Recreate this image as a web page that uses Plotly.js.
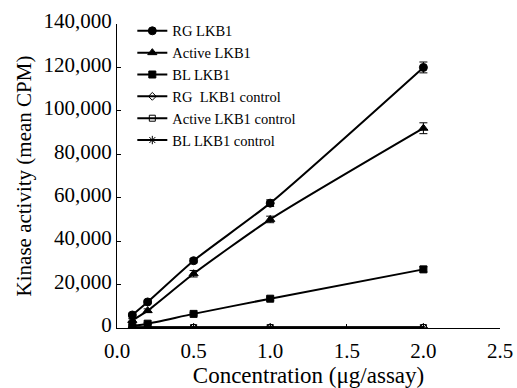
<!DOCTYPE html>
<html><head><meta charset="utf-8">
<script src="https://cdn.plot.ly/plotly-3.0.1.min.js"></script>
<style>body{margin:0;background:#fff}#chart{width:517px;height:388px}</style>
</head><body><div id="chart"></div>
<script>
const conc = [0.1, 0.2, 0.5, 1.0, 2.0];
const rgLKB1 = [6000, 12000, 31000, 57500, 120000];
const rgErr = [800, 800, 1000, 1500, 2500];
const activeLKB1 = [3500, 8000, 25000, 50000, 92000];
const activeErr = [800, 800, 1500, 1500, 2500];
const blLKB1 = [1000, 2000, 6500, 13500, 27000];
const blErr = [400, 400, 500, 700, 1200];
const rgControl = [300, 300, 300, 300, 300];
const activeControl = [200, 200, 200, 200, 200];
const blControl = [100, 100, 100, 100, 100];
const names = ["RG LKB1", "Active LKB1", "BL LKB1", "RG  LKB1 control", "Active LKB1 control", "BL LKB1 control"];
const yTicks = [0, 20000, 40000, 60000, 80000, 100000, 120000, 140000];
const yTickText = ["0", "20,000", "40,000", "60,000", "80,000", "100,000", "120,000", "140,000"];
const xTicks = [0, 0.5, 1.0, 1.5, 2.0, 2.5];
const xTickText = ["0.0", "0.5", "1.0", "1.5", "2.0", "2.5"];

function tr(y, err, name, sym, size) {
  const t = {x: conc, y: y, name: name, type: 'scatter', mode: 'lines+markers',
    line: {color: '#000', width: 2, shape: 'spline', smoothing: 0.6},
    marker: {symbol: sym, size: size, color: '#000', line: {color: '#000', width: 1}}};
  if (err) t.error_y = {type: 'data', array: err, visible: true, color: '#000', thickness: 1, width: 4};
  return t;
}
const data = [
  tr(rgLKB1, rgErr, names[0], 'circle', 8),
  tr(activeLKB1, activeErr, names[1], 'triangle-up', 8),
  tr(blLKB1, blErr, names[2], 'square', 7),
  tr(rgControl, null, names[3], 'diamond-open', 6),
  tr(activeControl, null, names[4], 'square-open', 6),
  tr(blControl, null, names[5], 'asterisk-open', 7)
];
const font = {family: 'Liberation Serif, Times New Roman, serif', color: '#000'};
const layout = {
  width: 517, height: 388,
  margin: {l: 117, r: 17, t: 24, b: 60},
  paper_bgcolor: '#fff', plot_bgcolor: '#fff',
  font: Object.assign({size: 20}, font),
  showlegend: true,
  legend: {x: 0.04, y: 1.03, xanchor: 'left', yanchor: 'top', bgcolor: 'rgba(0,0,0,0)',
    font: Object.assign({size: 14.5}, font), tracegroupgap: 0, itemwidth: 30},
  xaxis: {range: [0, 2.5], tickvals: xTicks, ticktext: xTickText, showline: true, linecolor: '#000', linewidth: 1,
    ticks: 'inside', ticklen: 4, tickcolor: '#000', showgrid: false, zeroline: false,
    ticklabelstandoff: 4,
    tickfont: Object.assign({size: 21}, font),
    title: {text: 'Concentration (\u03bcg/assay)', font: Object.assign({size: 23}, font), standoff: 4}},
  yaxis: {range: [0, 140000], tickvals: yTicks, ticktext: yTickText, showline: true, linecolor: '#000', linewidth: 1,
    ticks: 'inside', ticklen: 4, tickcolor: '#000', showgrid: false, zeroline: false,
    ticklabelshift: -3,
    tickfont: Object.assign({size: 21}, font),
    title: {text: 'Kinase activity (mean CPM)', font: Object.assign({size: 21}, font), standoff: 6}}
};
Plotly.newPlot('chart', data, layout, {displayModeBar: false, staticPlot: true});
</script></body></html>
